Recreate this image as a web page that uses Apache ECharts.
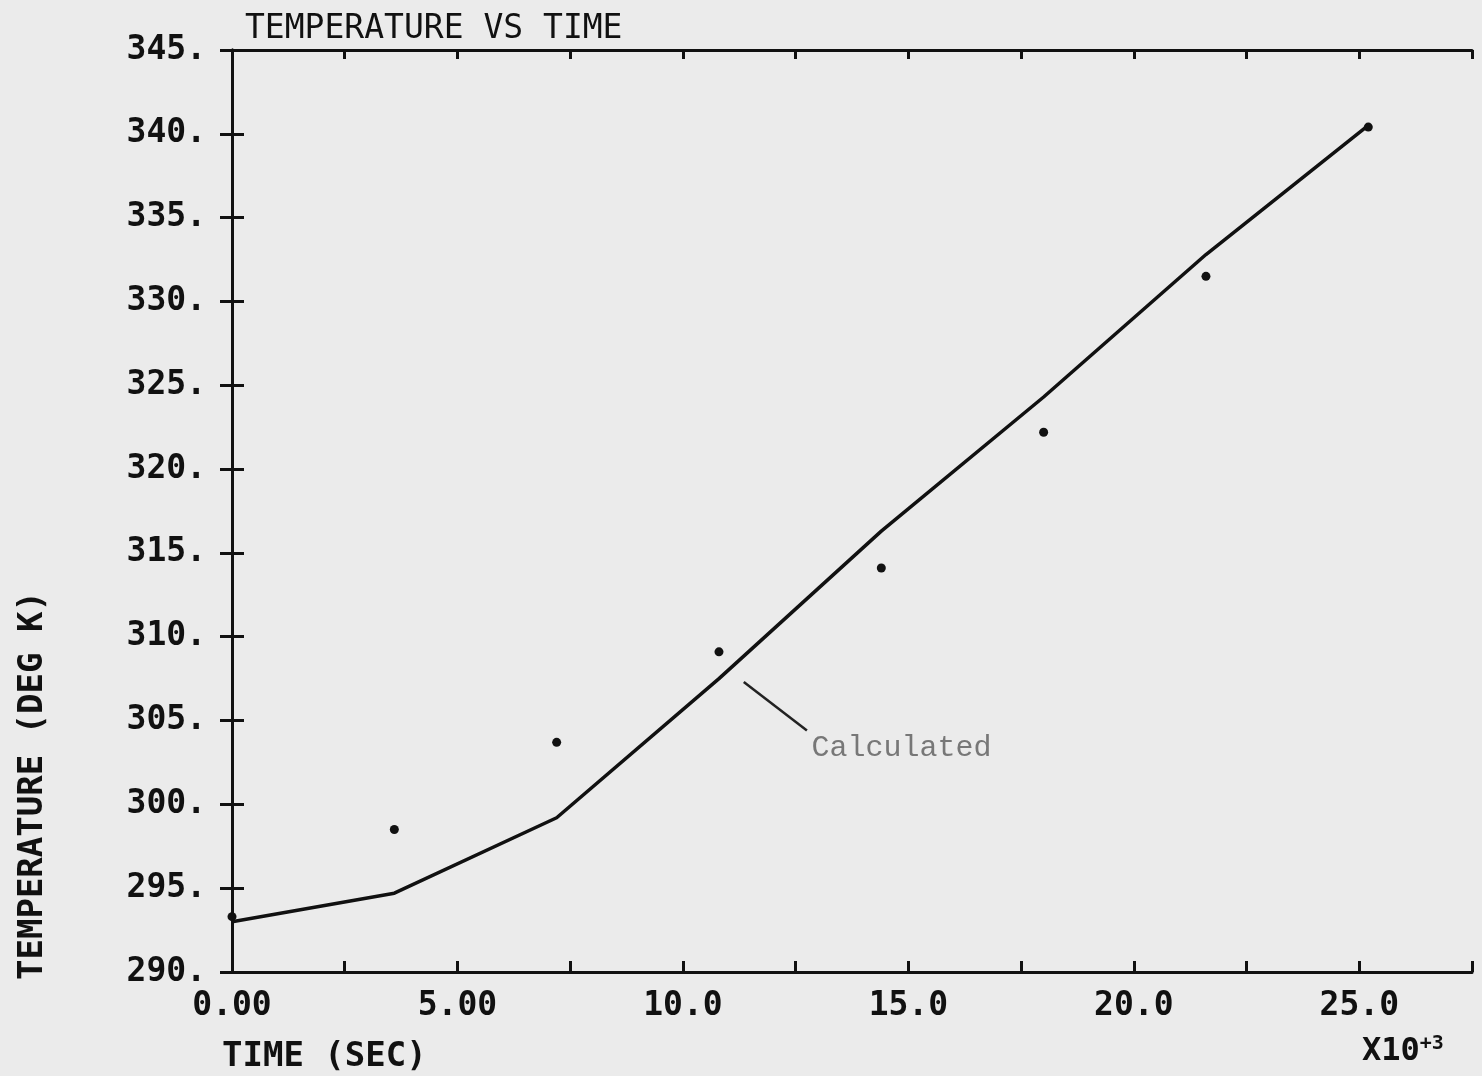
<!DOCTYPE html>
<html>
<head>
<meta charset="utf-8">
<script src="https://cdn.jsdelivr.net/npm/echarts@6/dist/echarts.min.js"></script>
<style>
  html, body { margin: 0; padding: 0; background: #ebebeb; }
  #chart { width: 1482px; height: 1076px; }
</style>
</head>
<body>
<div id="chart"></div>
<script>
// time in units of 10^3 s
const timeK = [0, 3.6, 7.2, 10.8, 14.4, 18.0, 21.6, 25.2];
const calcTemp = [293.0, 294.7, 299.2, 307.5, 316.3, 324.3, 332.8, 340.5];
const measTemp = [293.3, 298.5, 303.7, 309.1, 314.1, 322.2, 331.5, 340.4];

const xLabels = { 0: '0.00', 5: '5.00', 10: '10.0', 15: '15.0', 20: '20.0', 25: '25.0' };

const plotFont = 'DejaVu Sans Mono';

let myChart = echarts.init(document.getElementById('chart'));

const calcPoints = timeK.map((t, i) => [t, calcTemp[i]]);
const measPoints = timeK.map((t, i) => [t, measTemp[i]]);

const axisLine = { show: true, lineStyle: { color: '#111', width: 3 } };

let option = {
	backgroundColor: '#ebebeb',
	animation: false,
	title: {
		text: 'TEMPERATURE VS TIME',
		left: 240,
		top: 8,
		textStyle: { fontFamily: plotFont, fontSize: 33, fontWeight: 'normal', color: '#111' },
	},
	grid: { left: 232, top: 50, right: 10, bottom: 104 },
	xAxis: [
		{
			type: 'value',
			min: 0,
			max: 27.5,
			interval: 2.5,
			axisLine: axisLine,
			splitLine: { show: false },
			axisTick: { inside: true, length: 11, lineStyle: { color: '#111', width: 3 } },
			axisLabel: {
				margin: 18,
				fontFamily: plotFont,
				fontWeight: 'bold',
				fontSize: 33,
				color: '#111',
				formatter: (v) => xLabels[v] || '',
			},
		},
		{
			type: 'value',
			position: 'top',
			min: 0,
			max: 27.5,
			interval: 2.5,
			axisLine: axisLine,
			splitLine: { show: false },
			axisTick: { inside: true, length: 9, lineStyle: { color: '#111', width: 3 } },
			axisLabel: { show: false },
		},
	],
	yAxis: [
		{
			type: 'value',
			min: 290,
			max: 345,
			interval: 5,
			axisLine: axisLine,
			splitLine: { show: false },
			axisTick: { inside: true, length: 12, lineStyle: { color: '#111', width: 3 } },
			axisLabel: {
				margin: 26,
				fontFamily: plotFont,
				fontWeight: 'bold',
				fontSize: 33,
				color: '#111',
				formatter: (v) => v + '.',
			},
		},
		{
			type: 'value',
			position: 'right',
			min: 290,
			max: 345,
			interval: 5,
			axisLine: axisLine,
			splitLine: { show: false },
			axisTick: { inside: true, length: 12, lineStyle: { color: '#111', width: 3 } },
			axisLabel: { show: false },
		},
	],
	series: [
		{
			name: 'Calculated',
			type: 'line',
			data: calcPoints,
			showSymbol: false,
			lineStyle: { color: '#111', width: 3.5 },
			markLine: {
				silent: true,
				symbol: 'none',
				label: { show: false },
				lineStyle: { color: '#222', width: 2.5, type: 'solid' },
				data: [[{ coord: [11.35, 307.3] }, { coord: [12.75, 304.4] }]],
			},
		},
		{
			name: 'Measured',
			type: 'scatter',
			data: measPoints,
			symbol: 'circle',
			symbolSize: 9,
			itemStyle: { color: '#111', opacity: 1 },
		},
	],
};

myChart.setOption(option);

const labelPos = myChart.convertToPixel({ gridIndex: 0 }, [12.85, 303.9]);

myChart.setOption({
	graphic: [
		{
			type: 'text',
			left: labelPos[0],
			top: labelPos[1] - 6,
			style: {
				text: 'Calculated',
				font: '30px "Liberation Mono"',
				fill: '#777',
			},
		},
		{
			type: 'text',
			x: 222,
			y: 1040,
			style: {
				text: 'TIME (SEC)',
				font: 'bold 34px "DejaVu Sans Mono"',
				fill: '#111',
			},
		},
		{
			type: 'text',
			x: 1362,
			y: 1034,
			style: {
				text: 'X10{sup|+3}',
				font: 'bold 32px "DejaVu Sans Mono"',
				fill: '#111',
				rich: {
					sup: { fontSize: 20, fontWeight: 'bold', fontFamily: 'DejaVu Sans Mono', verticalAlign: 'top', padding: [0, 0, 16, 0] },
				},
			},
		},
		{
			type: 'text',
			x: 16,
			y: 980,
			rotation: Math.PI / 2,
			style: {
				text: 'TEMPERATURE (DEG K)',
				font: 'bold 34px "DejaVu Sans Mono"',
				fill: '#111',
				align: 'left',
				verticalAlign: 'top',
			},
		},
	],
});

window.addEventListener('resize', () => {
	myChart.resize();
});
</script>
</body>
</html>
